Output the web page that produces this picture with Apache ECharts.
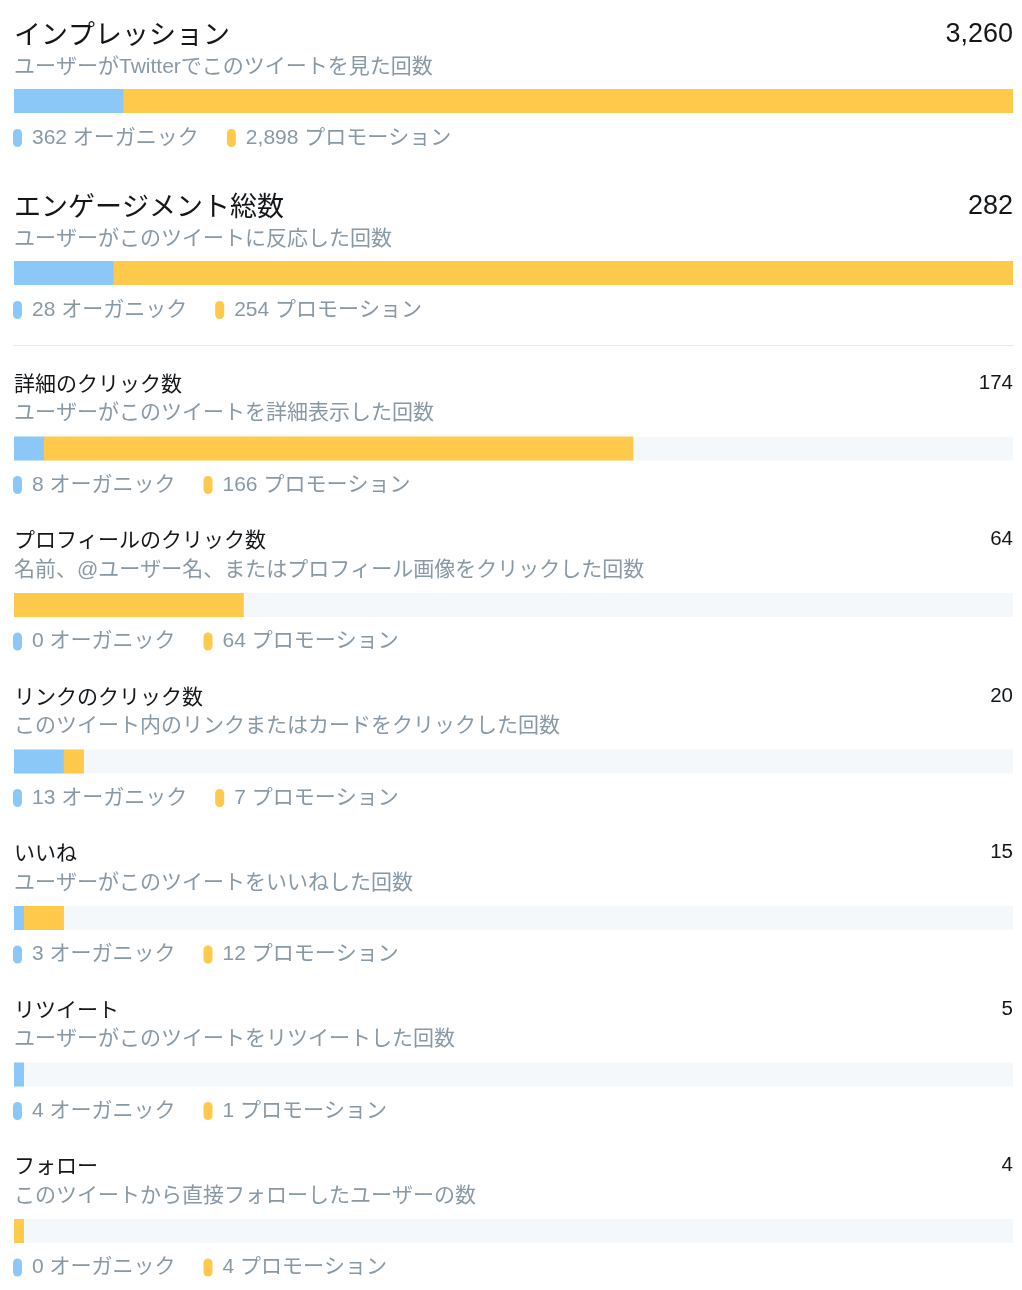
<!DOCTYPE html>
<html>
<head>
<meta charset="utf-8">
<script src="https://cdn.jsdelivr.net/npm/echarts@6/dist/echarts.min.js"></script>
<style>
  html, body { margin: 0; padding: 0; background: #fff; }
  #main { width: 1022px; height: 1290px; }
</style>
</head>
<body>
<div id="main"></div>
<script>
// metric rows, top to bottom
const labels = ['インプレッション', 'エンゲージメント総数', '詳細のクリック数', 'プロフィールのクリック数', 'リンクのクリック数', 'いいね', 'リツイート', 'フォロー'];
const descs = [
  'ユーザーがTwitterでこのツイートを見た回数',
  'ユーザーがこのツイートに反応した回数',
  'ユーザーがこのツイートを詳細表示した回数',
  '名前、@ユーザー名、またはプロフィール画像をクリックした回数',
  'このツイート内のリンクまたはカードをクリックした回数',
  'ユーザーがこのツイートをいいねした回数',
  'ユーザーがこのツイートをリツイートした回数',
  'このツイートから直接フォローしたユーザーの数'
];
const organic = [362, 28, 8, 0, 13, 3, 4, 0];
const promoted = [2898, 254, 166, 64, 7, 12, 1, 4];
const organicName = 'オーガニック';
const promotedName = 'プロモーション';

const BLUE = '#8bc8f8';
const YELLOW = '#ffc94b';
const GRAY = '#8899a6';
const DARK = '#14171a';
const TRACK = '#f5f8fa';
const FONT = 'Arial, "Liberation Sans", "Noto Sans CJK JP", sans-serif';

const totals = organic.map((v, i) => v + promoted[i]);
// bars are shown as whole percents of a reference total:
// impressions of themselves, everything else of total engagements
const refTotal = i => (i === 0 ? totals[0] : totals[1]);
const pct = (v, i) => Math.round(v / refTotal(i) * 100);
const fmt = n => n.toLocaleString('en-US');

// vertical layout: title centre per row
function rowMid(i) {
  if (i < 2) return 34 + i * 172;
  return 382 + (i - 2) * 156.5;
}

const grids = [], xAxes = [], yAxes = [], series = [], graphics = [];

labels.forEach((name, i) => {
  const big = i < 2;
  const y = rowMid(i);
  const barTop = y + (big ? 55 : 54.5);
  const titleFont = (big ? 27 : 21) + 'px ' + FONT;
  const valueFont = (big ? 27 : 20.5) + 'px ' + FONT;
  const nudge = 3; // canvas middle sits a little above the glyph centre

  grids.push({ left: 14, right: 9, top: barTop, height: 24 });
  xAxes.push({ gridIndex: i, type: 'value', min: 0, max: 100, show: false });
  yAxes.push({ gridIndex: i, type: 'category', data: [name], show: false });

  series.push({
    name: organicName,
    type: 'bar',
    xAxisIndex: i, yAxisIndex: i,
    stack: 'row' + i,
    barWidth: 24,
    silent: true,
    showBackground: !big,
    backgroundStyle: { color: TRACK },
    itemStyle: { color: BLUE },
    data: [pct(organic[i], i)]
  });
  series.push({
    name: promotedName,
    type: 'bar',
    xAxisIndex: i, yAxisIndex: i,
    stack: 'row' + i,
    barWidth: 24,
    silent: true,
    itemStyle: { color: YELLOW },
    data: [pct(promoted[i], i)]
  });

  graphics.push({
    type: 'text', x: 14, y: y + nudge,
    style: { text: name, fill: DARK, font: titleFont, verticalAlign: 'middle' }
  });
  graphics.push({
    type: 'text', x: 1013, y: y + 1,
    style: { text: fmt(totals[i]), fill: DARK, font: valueFont, align: 'right', verticalAlign: 'middle' }
  });
  graphics.push({
    type: 'text', x: 14, y: y + (big ? 31 : 29.5) + 2,
    style: { text: descs[i], fill: GRAY, font: '21px ' + FONT, verticalAlign: 'middle' }
  });

  graphics.push({
    type: 'text', x: 13, y: y + (big ? 103 : 102) + 1,
    style: {
      text: '{a| }{t|' + fmt(organic[i]) + ' ' + organicName + '}{b| }{t2|' + fmt(promoted[i]) + ' ' + promotedName + '}',
      font: '21px ' + FONT,
      verticalAlign: 'middle',
      rich: {
        a: { width: 9, height: 18, backgroundColor: BLUE, borderRadius: 4.5 },
        b: { width: 9, height: 18, backgroundColor: YELLOW, borderRadius: 4.5 },
        t: { fill: GRAY, font: '21px ' + FONT, padding: [0, 28, 0, 10], lineHeight: 24 },
        t2: { fill: GRAY, font: '21px ' + FONT, padding: [0, 0, 0, 10], lineHeight: 24 }
      }
    }
  });
});

// divider between the headline metrics and the breakdown
graphics.push({
  type: 'line',
  shape: { x1: 14, y1: 345.5, x2: 1013, y2: 345.5 },
  style: { stroke: '#e1e8ed', lineWidth: 1 }
});

const chart = echarts.init(document.getElementById('main'), null, { renderer: 'canvas' });
chart.setOption({
  animation: false,
  backgroundColor: '#fff',
  grid: grids,
  xAxis: xAxes,
  yAxis: yAxes,
  series: series,
  graphic: graphics
});
</script>
</body>
</html>
